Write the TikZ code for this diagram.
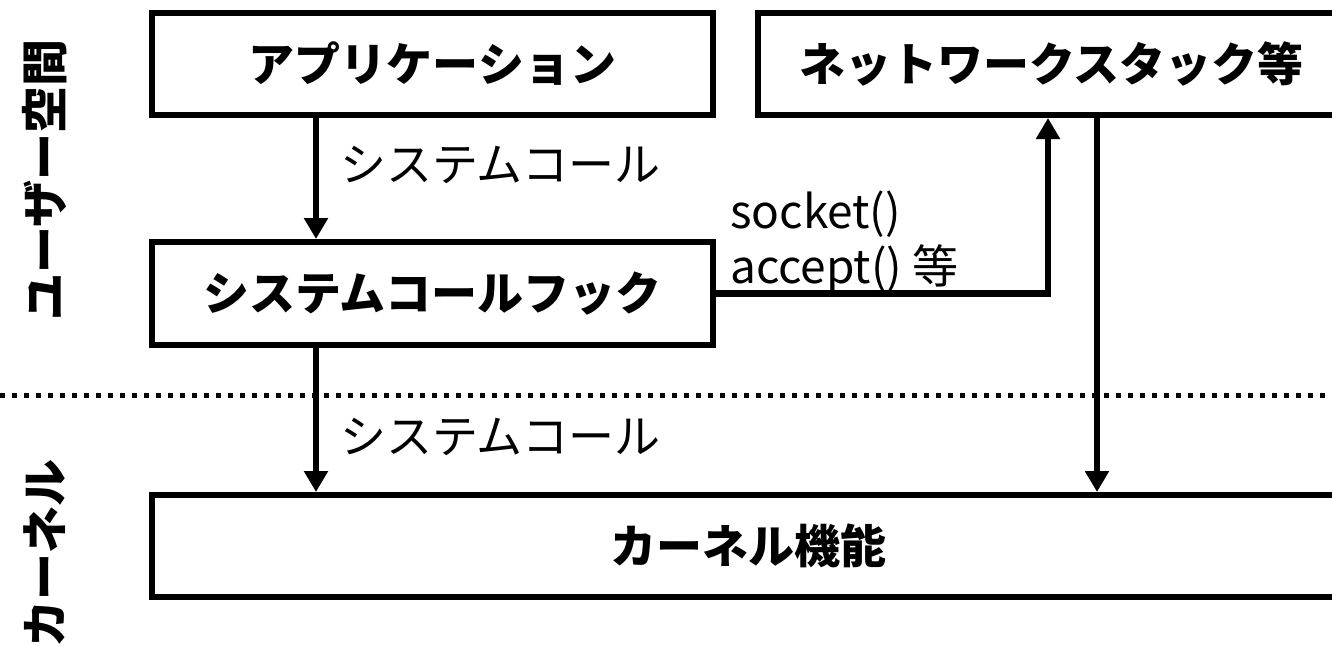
\documentclass[tikz,border=0pt]{standalone}
\usepackage{fontspec}
\setmainfont{Noto Sans CJK JP}
\usetikzlibrary{arrows.meta}
\tikzset{
  box/.style={draw, line width=6pt, inner sep=0pt, font=\fontsize{46}{55}\selectfont\bfseries},
  arr/.style={line width=6.5pt, -{Triangle[length=21pt,width=23pt]}},
  lbl/.style={inner sep=0pt, font=\fontsize{46}{55}\selectfont, align=left},
  side/.style={inner sep=0pt, rotate=90, font=\fontsize{47}{55}\selectfont\bfseries}
}
\begin{document}
\begin{tikzpicture}[x=1pt,y=-1pt]
\useasboundingbox (0,0) rectangle (1332,645);
\node[box, minimum width=561pt, minimum height=102pt] (app) at (432.5,64) {アプリケーション};
\node[box, minimum width=587pt, minimum height=102pt] (net) at (1051.5,64) {ネットワークスタック等};
\node[box, minimum width=561pt, minimum height=103pt] (hook) at (432.5,293.5) {システムコールフック};
\node[box, minimum width=1193pt, minimum height=102pt] (kern) at (748.5,546) {カーネル機能};
\coordinate (xa) at (316,0);
\coordinate (xb) at (1048,0);
\coordinate (xc) at (1097,0);
\coordinate (dl) at (0,395);
\coordinate (dr) at (1332,395);
\draw[line width=5pt, dash pattern=on 5pt off 7pt] (dl) -- (dr);
\draw[arr] (xa |- app.south) -- (xa |- hook.north);
\draw[arr] (xa |- hook.south) -- (xa |- kern.north);
\draw[arr] (hook.east) -- (xb |- hook.east) -- (xb |- net.south);
\draw[arr] (xc |- net.south) -- (xc |- kern.north);
\node[lbl, anchor=west] (sc1) at (340,165) {システムコール};
\node[lbl, anchor=west] (sc2) at (340,437) {システムコール};
\node[lbl, anchor=west] (sock) at (730,242) {socket()\\accept() 等};
\node[side] (user) at (45,180) {ユーザー空間};
\node[side] (kl) at (45,553) {カーネル};
\end{tikzpicture}
\end{document}
